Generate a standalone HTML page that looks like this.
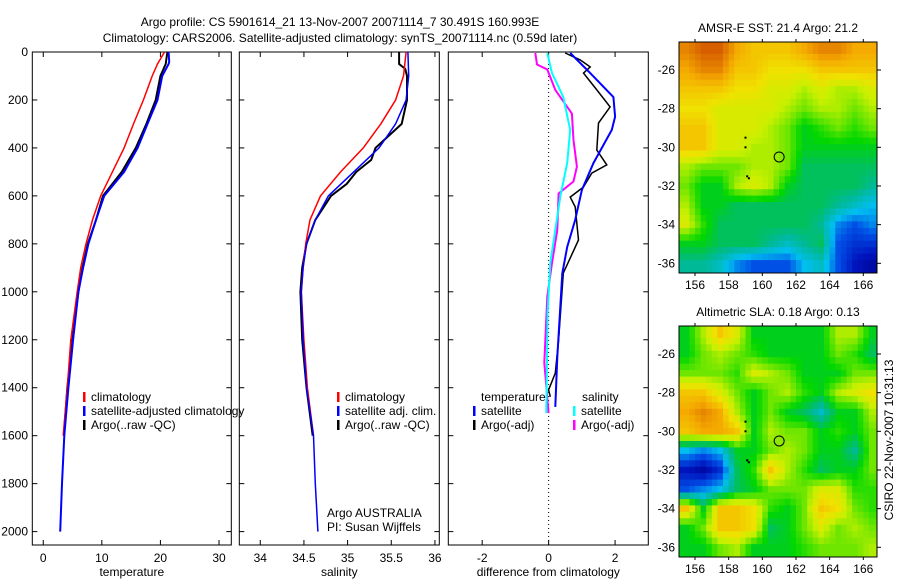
<!DOCTYPE html>
<html><head><meta charset="utf-8"><style>
body{margin:0;background:#fff;}
svg text{font-family:"Liberation Sans",sans-serif;font-size:12px;fill:#000;}
</style></head><body>
<svg id="fig" width="900" height="580" xmlns="http://www.w3.org/2000/svg">
<text x="340" y="26" text-anchor="middle">Argo profile: CS 5901614_21 13-Nov-2007 20071114_7 30.491S 160.993E</text>
<text x="340" y="42" text-anchor="middle">Climatology: CARS2006. Satellite-adjusted climatology: synTS_20071114.nc (0.59d later)</text>
<g id="g"></g>
<text transform="translate(893,440) rotate(-90)" text-anchor="middle">CSIRO 22-Nov-2007 10:31:13</text>
</svg>
<script>
// ---- profile data ----
const depthT=[0,50,100,200,300,400,500,600,700,800,900,1000,1200,1400,1600];
const tempClim=[20.7,19.5,18.6,17.1,15.4,13.8,11.8,9.8,8.4,7.3,6.4,5.8,4.7,4.1,3.4];
const depthB=[0,40,50,100,200,300,400,500,600,700,800,900,1000,1200,1400,1600,1800,2000];
const tempSat=[21.4,21.5,21.4,20.3,19.5,17.8,16.1,13.8,10.4,9.0,7.7,6.8,6.0,5.1,4.3,3.6,3.2,2.9];
const depthA=[0,50,100,200,300,400,500,600,700,800,900,1000,1200,1400,1600];
const tempArgo=[21.2,20.9,20.0,19.2,17.6,15.8,13.4,10.2,9.0,7.6,6.7,6.0,5.0,4.1,3.5];
const salDepthC=[0,100,200,300,400,500,600,700,800,900,1000,1200,1400,1600];
const salClim=[35.67,35.64,35.55,35.38,35.18,34.92,34.69,34.57,34.52,34.49,34.47,34.50,34.54,34.61];
const salDepthS=[0,100,200,300,400,500,600,700,800,900,1000,1200,1400,1600,1800,2000];
const salSat=[35.69,35.70,35.67,35.55,35.36,35.07,34.78,34.63,34.53,34.49,34.47,34.49,34.53,34.61,34.63,34.66];
const salDepthA=[0,50,70,100,200,300,400,450,500,550,600,700,800,900,1000,1200,1400,1600];
const salArgo=[35.59,35.59,35.66,35.68,35.68,35.62,35.32,35.27,35.10,34.99,34.81,34.63,34.53,34.48,34.46,34.48,34.53,34.60];
const dDepthTS=[4,88,188,270,325,463,575,700,813,923,1063,1272,1480];
const dTempSat=[0.65,1.25,1.95,2.0,1.9,1.35,1.0,0.8,0.56,0.41,0.35,0.26,0.2];
const dDepthTA=[4,33,62,88,158,229,296,409,471,505,563,605,646,784,922,1201,1339,1409,1438];
const dTempArgo=[0.5,0.95,1.25,1.05,1.45,1.85,1.5,1.45,1.75,1.3,1.05,0.65,0.8,0.9,0.44,0.3,0.2,0.0,0.05];
const dDepthSS=[4,88,188,325,463,603,742,880,1087,1506];
const dSalSat=[-0.04,0.1,0.44,0.65,0.56,0.35,0.2,0.05,-0.03,-0.07];
const dDepthSA=[4,52,73,158,257,368,478,540,590,742,880,1019,1296,1506];
const dSalArgo=[-0.4,-0.35,-0.04,0.2,0.7,0.75,0.85,0.75,0.3,0.26,0.1,-0.04,-0.13,0];
const depthTicks=[0,200,400,600,800,1000,1200,1400,1600,1800,2000];
const tempTicks=[0,10,20,30];
const salTicks=["34","34.5","35","35.5","36"];
const diffTicks=[-2,0,2];
// ---- map data (rows lat -25..-36, cols lon 155.5..166.5), colour index 0..10 ----
const mapLats=[-25,-26,-27,-28,-29,-30,-31,-32,-33,-34,-35,-36];
const mapLons=[155.5,156.5,157.5,158.5,159.5,160.5,161.5,162.5,163.5,164.5,165.5,166.5];
const sstGrid=[
[9,9.5,9.5,8.5,8,8,8,8.5,9,9,8.5,8.5],
[8.5,9,9,8,8,7.5,7.5,7.5,8,8,8,8],
[8,8,8,7.5,7.5,7,7,6.5,7,6.5,6.5,7],
[7.5,7.5,7,7,7,7,6.5,6,6.5,6.5,6,6.5],
[8,8,7,7,7,6.5,6,5,5.5,6,5.5,6],
[8,8,7,7,6.5,6.5,6,5,5,5,5,5],
[6.5,6,6,6,6.5,6.5,6,4.5,4.5,4.5,4.5,4.5],
[6,5,5,6.5,7,6.5,5,4.5,4.5,4.5,4.5,4],
[6.5,5,5,4.5,4.5,4.5,4.5,4.5,4.5,4,3.5,3],
[7,5.5,4.5,4.5,4.5,4.5,4.5,4.5,4,2.5,2,2.5],
[5,5,4.5,4.5,4.5,4,3.5,4,4.5,2,1.5,1.5],
[4,4,3.5,2.5,2,2,2,3,3.5,2,1,0.5]];
const slaGrid=[
[5,6.5,8,7,5,5,5,5,5,6.5,6.5,5],
[5,6,6.5,6,5.5,5,5,5,5,6,5.5,4.5],
[6,6,6,5.5,7,6.5,6,5,5,5,6,6],
[8,8,7,6,5,6,6.5,5.5,5,6.5,7,7.5],
[8.5,9,8.5,6.5,5,6,5,4.5,3.5,5,5,6.5],
[8,8.5,8.5,8,5,6.5,6,6,5,5.5,5,6],
[3,2.5,3,5,5,6,6.5,6,5,5,4,6],
[1,0.5,1.5,4.5,5.5,8,6.5,5.5,4.5,5,5,6],
[2,2.5,3,4.5,5,6,6,6,7,7,5.5,5.5],
[8,5,8,8,7.5,5.5,5,6,8,7.5,6,5.5],
[5,6,8,8,7.5,4.5,5,6,7,6,6.5,6],
[5,5,6,6.5,5,5,5,5.5,6,6,6,6.5]];
const latTicks=[-26,-28,-30,-32,-34,-36];
const lonTicks=[156,158,160,162,164,166];
const argoPos=[161,-30.5];
const islandPts=[[159,-29.5],[159,-30],[159.1,-31.5],[159.2,-31.6]];

const NS="http://www.w3.org/2000/svg";
const G=document.getElementById('g');
function el(tag,attrs,parent){const e=document.createElementNS(NS,tag);for(const k in attrs)e.setAttribute(k,attrs[k]);(parent||G).appendChild(e);return e;}
function txt(x,y,s,anchor,parent){const t=el('text',{x:x,y:y,'text-anchor':anchor||'start'},parent);t.textContent=s;return t;}
const yD=d=>52+d*0.2398;
const P=[{x0:32.3,x1:231.3,v0:-1.87,v1:32.1},{x0:239.3,x1:439.3,v0:33.76,v1:36.05},{x0:448.3,x1:648.3,v0:-3.02,v1:3.0}];
function xf(p){return v=>p.x0+(v-p.v0)/(p.v1-p.v0)*(p.x1-p.x0);}
function line(xs,ds,p,color,w,name){
  const f=xf(p);let d='';
  for(let i=0;i<xs.length;i++)d+=(i?'L':'M')+f(xs[i]).toFixed(1)+','+yD(ds[i]).toFixed(1);
  const e=el('path',{d:d,fill:'none',stroke:color,'stroke-width':w});
  
  
}
function frame(p,ticks,labels,xlabel,name){
  const g=el('g',{});
  
  
  el('rect',{x:p.x0,y:52,width:p.x1-p.x0,height:493,fill:'none',stroke:'#000','stroke-width':1},g);
  const f=xf(p);
  ticks.forEach((v,i)=>{const x=f(+v);
    el('line',{x1:x,y1:545,x2:x,y2:540,stroke:'#000'},g);
    el('line',{x1:x,y1:52,x2:x,y2:57,stroke:'#000'},g);
    const t=txt(x,562,String(labels[i]),'middle',g);
    
    });
  depthTicks.forEach(d=>{const y=yD(d);
    el('line',{x1:p.x0,y1:y,x2:p.x0+5,y2:y,stroke:'#000'},g);
    el('line',{x1:p.x1,y1:y,x2:p.x1-5,y2:y,stroke:'#000'},g);});
  const xl=txt((p.x0+p.x1)/2,576,xlabel,'middle',g);
  
  
}
frame(P[0],tempTicks,tempTicks,'temperature','temperature-panel');
frame(P[1],salTicks,salTicks,'salinity','salinity-panel');
frame(P[2],diffTicks,diffTicks,'difference from climatology','difference-panel');
depthTicks.forEach(d=>{const t=txt(28,yD(d)+4,String(d),'end');
  
  });
const zx=xf(P[2])(0);
const zl=el('line',{x1:zx,y1:52,x2:zx,y2:545,stroke:'#000','stroke-dasharray':'1,3'});


line(tempArgo,depthA,P[0],'#000',2,'temp-argo-line');
line(tempClim,depthT,P[0],'#f00',1.5,'temp-climatology-line');
line(tempSat,depthB,P[0],'#00f',2,'temp-satellite-line');
line(salArgo,salDepthA,P[1],'#000',2,'sal-argo-line');
line(salClim,salDepthC,P[1],'#f00',1.5,'sal-climatology-line');
line(salSat,salDepthS,P[1],'#00f',1.5,'sal-satellite-line');
line(dTempArgo,dDepthTA,P[2],'#000',1.5,'diff-temp-argo-line');
line(dTempSat,dDepthTS,P[2],'#00f',2,'diff-temp-satellite-line');
line(dSalArgo,dDepthSA,P[2],'#f0f',2,'diff-sal-argo-line');
line(dSalSat,dDepthSS,P[2],'#0ff',2,'diff-sal-satellite-line');
function leg(x,y,color,s,name){
  el('rect',{x:x,y:y-9,width:2.5,height:10,fill:color});
  const t=txt(x+8,y,s);
  
  
}
leg(83,401,'#f00','climatology','legend-climatology');
leg(83,415,'#00f','satellite-adjusted climatology','legend-satellite-adjusted');
leg(83,429,'#000','Argo(..raw -QC)','legend-argo');
leg(337,401,'#f00','climatology','legend-sal-climatology');
leg(337,415,'#00f','satellite adj. clim.','legend-sal-satellite');
leg(337,429,'#000','Argo(..raw -QC)','legend-sal-argo');
txt(481,401,'temperature');
leg(473,415,'#00f','satellite','legend-diff-temp-sat');
leg(473,429,'#000','Argo(-adj)','legend-diff-temp-argo');
txt(582,401,'salinity');
leg(573,415,'#0ff','satellite','legend-diff-sal-sat');
leg(573,429,'#f0f','Argo(-adj)','legend-diff-sal-argo');
txt(327,517,'Argo AUSTRALIA');
txt(327,531,'PI: Susan Wijffels');
// colour palette stops
const cStops=[[0,0,0,140],[1,0,20,190],[2,0,80,230],[3,0,190,240],[4,0,185,150],[4.6,0,195,80],[5.2,0,215,0],[6,110,230,0],[6.7,200,240,0],[7.5,240,225,0],[8.5,245,170,0],[9.5,215,95,0],[10,200,70,0]];
function pal(v){
  for(let i=1;i<cStops.length;i++){if(v<=cStops[i][0]){const a=cStops[i-1],b=cStops[i];const t=(v-a[0])/(b[0]-a[0]);
    return 'rgb('+[1,2,3].map(k=>Math.round(a[k]+(b[k]-a[k])*t)).join(',')+')';}}
  return 'rgb(200,70,0)';
}
function sample(grid,fi,fj){
  const n=grid.length,m=grid[0].length;
  fi=Math.max(0,Math.min(n-1,fi));fj=Math.max(0,Math.min(m-1,fj));
  const i0=Math.floor(fi),j0=Math.floor(fj),i1=Math.min(n-1,i0+1),j1=Math.min(m-1,j0+1);
  const a=fi-i0,b=fj-j0;
  return grid[i0][j0]*(1-a)*(1-b)+grid[i0][j1]*(1-a)*b+grid[i1][j0]*a*(1-b)+grid[i1][j1]*a*b;
}
function map(top,grid,title,name){
  const L=679,R=877,B=top+231;
  const lx=lon=>695+(lon-156)*16.83;
  const ly=lat=>top+28+(-26-lat)*19.33;
  const g=el('g',{});
  
  
  const clipId=name+'-clip';
  const cp=el('clipPath',{id:clipId},g);el('rect',{x:L,y:top,width:R-L,height:B-top},cp);
  const cg=el('g',{'clip-path':'url(#'+clipId+')'},g);
  const S=3;
  for(let i=0;i<grid.length;i++)for(let j=0;j<grid[0].length;j++)for(let si=0;si<S;si++)for(let sj=0;sj<S;sj++){
    const fi=i-0.5+(si+0.5)/S, fj=j-0.5+(sj+0.5)/S;
    const v=sample(grid,fi,fj);
    const x=lx(mapLons[j]-0.5+sj/S),y=ly(mapLats[i]+0.5-si/S);
    const r=el('rect',{x:x.toFixed(1),y:y.toFixed(1),width:(16.83/S+0.6).toFixed(2),height:(19.33/S+0.6).toFixed(2),fill:pal(v)},cg);
    
    
  }
  el('rect',{x:L,y:top,width:R-L,height:B-top,fill:'none',stroke:'#000'},g);
  latTicks.forEach(la=>{const y=ly(la);
    el('line',{x1:R,y1:y,x2:R+4,y2:y,stroke:'#000'},g);
    txt(L-4,y+4,String(la),'end',g);});
  lonTicks.forEach(lo=>{const x=lx(lo);
    el('line',{x1:x,y1:top,x2:x,y2:top-3,stroke:'#000'},g);
    el('line',{x1:x,y1:B,x2:x,y2:B+3,stroke:'#000'},g);
    txt(x,B+16,String(lo),'middle',g);});
  islandPts.forEach(p=>el('rect',{x:lx(p[0])-1,y:ly(p[1])-1,width:2,height:2,fill:'#000'},g));
  const c=el('circle',{cx:lx(argoPos[0]),cy:ly(argoPos[1]),r:5,fill:'none',stroke:'#000'},g);
  
  
  const t=txt((L+R)/2,top-10,title,'middle',g);
  
  
}
map(42,sstGrid,'AMSR-E SST: 21.4 Argo: 21.2','sst-map');
map(326,slaGrid,'Altimetric SLA: 0.18 Argo: 0.13','sla-map');
</script>
</body></html>
